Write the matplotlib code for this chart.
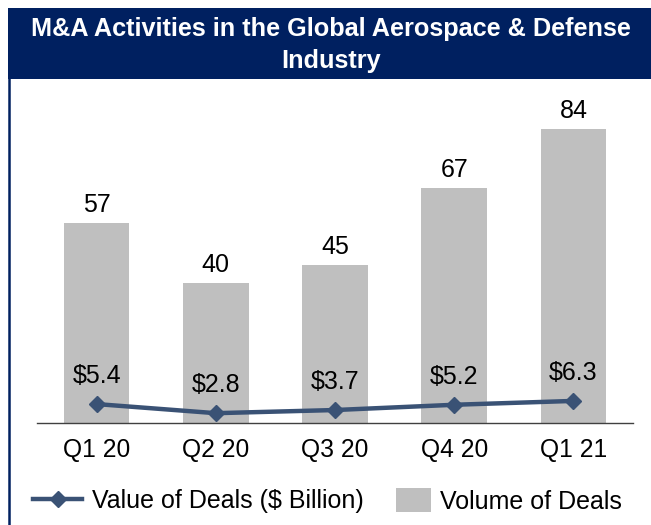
import matplotlib
matplotlib.use("Agg")
import matplotlib.pyplot as plt
from matplotlib.patches import Rectangle
from matplotlib.lines import Line2D
import numpy as np

plt.rcParams['font.family'] = ['Liberation Sans', 'DejaVu Sans']

categories = ["Q1 20", "Q2 20", "Q3 20", "Q4 20", "Q1 21"]
volume = [57, 40, 45, 67, 84]
value = [5.4, 2.8, 3.7, 5.2, 6.3]
value_labels = ["$5.4", "$2.8", "$3.7", "$5.2", "$6.3"]

navy = "#002060"
line_color = "#3A5275"
bar_color = "#BFBFBF"
W, H = 651, 525

fig = plt.figure(figsize=(6.51, 5.25), dpi=100)
fig.patch.set_facecolor("white")

# banner
fig.patches.append(Rectangle((8/W, 1-79/H), 1-8/W, 71/H, transform=fig.transFigure,
                             facecolor=navy, edgecolor="none", zorder=0))
fig.lines.append(Line2D([9.2/W, 9.2/W], [0, 1-79/H], transform=fig.transFigure,
                        color=navy, lw=1.8))
fig.text(331/W, 1-45/H, "M&A Activities in the Global Aerospace & Defense\nIndustry",
         ha="center", va="center", color="white", fontsize=18.2, fontweight="bold",
         linespacing=1.38)

ax = fig.add_axes([37/W, 1-423/H, (633-37)/W, (423-90)/H])
x = np.arange(len(categories))
ax.bar(x, volume, width=0.55, color=bar_color, zorder=1)
ax.plot(x, value, color=line_color, lw=3.2, marker="D", markersize=8, zorder=3)
for xi, v in zip(x, volume):
    ax.text(xi, v + 3.1, str(v), ha="center", va="baseline", fontsize=18)
for xi, v, lab in zip(x, value, value_labels):
    ax.text(xi, v + 6.0, lab, ha="center", va="baseline", fontsize=18)

ax.set_xlim(-0.5, len(categories) - 0.5)
ax.set_ylim(0, 95)
ax.set_xticks(x)
ax.set_xticklabels(categories, fontsize=17.7)
ax.tick_params(axis="x", length=0, pad=11)
ax.set_yticks([])
for s in ["top", "right", "left"]:
    ax.spines[s].set_visible(False)
ax.spines["bottom"].set_color("#404040")
ax.spines["bottom"].set_linewidth(1.0)

fs = 18
leg1 = fig.legend([Line2D([], [], color=line_color, lw=3.2, marker="D", markersize=8)],
                  ["Value of Deals ($ Billion)"], loc="center left",
                  bbox_to_anchor=(33/W, 1-501/H), frameon=False, fontsize=fs,
                  handlelength=49/25, handletextpad=0.4, borderpad=0, borderaxespad=0)
leg2 = fig.legend([Rectangle((0, 0), 1, 1, facecolor=bar_color)],
                  ["Volume of Deals"], loc="center left",
                  bbox_to_anchor=(396/W, 1-501/H), frameon=False, fontsize=fs,
                  handlelength=35/25, handleheight=27/25, handletextpad=0.36,
                  borderpad=0, borderaxespad=0)

fig.savefig("out.png", dpi=100)
